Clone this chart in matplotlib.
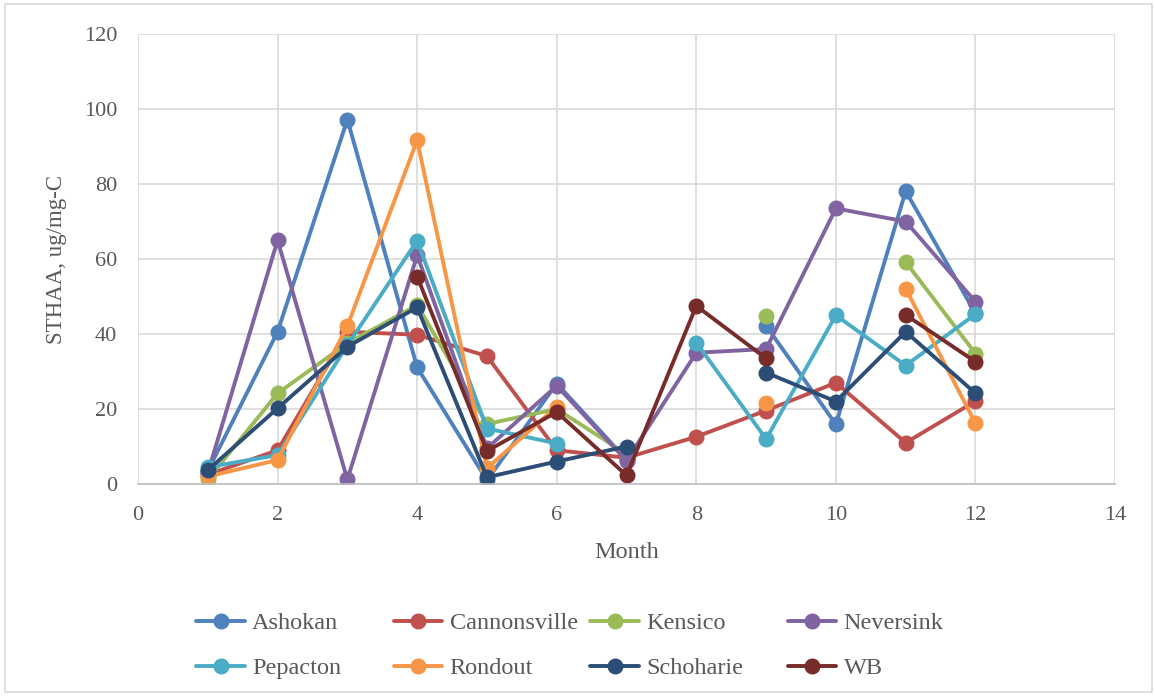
import numpy as np
import matplotlib
matplotlib.use("Agg")
import matplotlib.pyplot as plt
from matplotlib.patches import Rectangle

nan = np.nan
months = [1, 2, 3, 4, 5, 6, 7, 8, 9, 10, 11, 12]

ashokan      = [3.5, 40.6, 97.2, 31.1, 1.0, 26.8, 6.5, nan, 42.2, 15.9, 78.1, 45.5]
cannonsville = [2.5, 9.0, 40.6, 39.8, 34.1, 9.0, 7.0, 12.6, 19.6, 27.0, 11.0, 22.1]
kensico      = [1.2, 24.2, 37.5, 47.7, 16.0, 20.0, 8.0, nan, 44.9, nan, 59.2, 34.8]
neversink    = [3.0, 65.0, 1.2, 61.0, 9.5, 26.2, 6.2, 35.0, 36.0, 73.5, 70.0, 48.6]
pepacton     = [4.5, 7.7, 37.0, 64.9, 14.8, 10.8, nan, 37.7, 12.0, 45.0, 31.6, 45.3]
rondout      = [2.0, 6.4, 42.1, 91.7, 4.2, 20.6, nan, nan, 21.7, nan, 52.1, 16.2]
schoharie    = [3.7, 20.2, 36.6, 47.1, 1.8, 6.0, 10.0, nan, 29.7, 22.0, 40.6, 24.2]
wb           = [nan, nan, nan, 55.3, 8.8, 19.2, 2.3, 47.5, 33.5, nan, 45.1, 32.6]

series_names = ["Ashokan", "Cannonsville", "Kensico", "Neversink",
                "Pepacton", "Rondout", "Schoharie", "WB"]
series_values = [ashokan, cannonsville, kensico, neversink,
                 pepacton, rondout, schoharie, wb]
series_colors = ["#4F81BD", "#C0504D", "#9BBB59", "#8064A2",
                 "#4BACC6", "#F79646", "#2C4D75", "#772C2A"]

x_ticks = [0, 2, 4, 6, 8, 10, 12, 14]
y_ticks = [0, 20, 40, 60, 80, 100, 120]

plt.rcParams["font.family"] = ["Liberation Serif", "DejaVu Serif"]
text_color = "#595959"
grid_color = "#D9D9D9"

fig = plt.figure(figsize=(11.55, 6.96), dpi=100)
ax = fig.add_axes([0.1195, 0.3046, 0.8459, 0.6465])

handles = []
for name, vals, col in zip(series_names, series_values, series_colors):
    line, = ax.plot(months, vals, color=col, linewidth=2.8, marker="o",
                    markersize=10.5, markerfacecolor=col, markeredgecolor=col,
                    label=name, solid_capstyle="round", solid_joinstyle="round")
    handles.append(line)

ax.set_xlim(0, 14)
ax.set_ylim(0, 120)
ax.set_xticks(x_ticks)
ax.set_yticks(y_ticks)
ax.grid(True, color=grid_color, linewidth=1.2)
ax.set_axisbelow(True)
for side in ["top", "right", "left"]:
    ax.spines[side].set_visible(False)
ax.spines["bottom"].set_color("#BFBFBF")
ax.spines["bottom"].set_linewidth(1.2)
ax.tick_params(length=0, labelsize=16, labelcolor=text_color)
ax.tick_params(axis="x", pad=16)
ax.tick_params(axis="y", pad=15)

ax.set_xlabel("Month", fontsize=17.5, color=text_color, labelpad=12)
ax.set_ylabel("STHAA, ug/mg-C", fontsize=16.5, color=text_color, labelpad=12)

# legend: 4 evenly spaced columns, two rows (row 1: first four series)
ncol = 4
col_left = [0.170, 0.341, 0.511, 0.682]
for c in range(ncol):
    idx = [c, c + ncol]
    leg = fig.legend([handles[i] for i in idx], [series_names[i] for i in idx],
                     loc="upper left", bbox_to_anchor=(col_left[c], 0.120),
                     frameon=False, fontsize=17.5, handlelength=2.0,
                     handletextpad=0.3, borderpad=0, borderaxespad=0,
                     labelspacing=0.93)
    for t in leg.get_texts():
        t.set_color(text_color)

fig.patches.append(Rectangle((0.004, 0.006), 0.993, 0.988,
                             transform=fig.transFigure, fill=False,
                             edgecolor=grid_color, linewidth=1.2))

fig.savefig("out.png", dpi=100)
